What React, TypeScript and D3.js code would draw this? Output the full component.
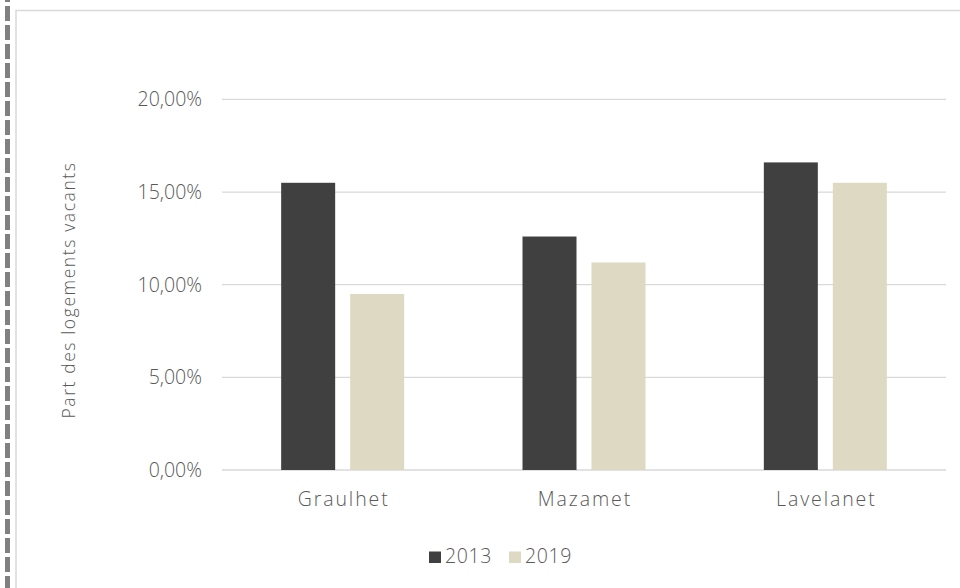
import React from "react";
import * as d3 from "d3";

const categories = ["Graulhet", "Mazamet", "Lavelanet"];
const seriesNames = ["2013", "2019"];
const values2013 = [0.155, 0.126, 0.166];
const values2019 = [0.095, 0.112, 0.155];
const yTicks = [0, 0.05, 0.1, 0.15, 0.2];
const colors = ["#404040", "#ddd9c3"];

const W = 960;
const H = 588;
const FONT = "'Century Gothic', 'Open Sans', 'DejaVu Sans', sans-serif";

export default function App() {
  const left = 222;
  const right = 946;
  const top = 99.4;
  const bottom = 470;
  const x = d3.scaleBand<string>().domain(categories).range([left, right]).paddingInner(0).paddingOuter(0);
  const y = d3.scaleLinear().domain([0, 0.2]).range([bottom, top]);
  const barW = 54;
  const gap = 15;
  const series = [values2013, values2019];
  const fmt = (v: number) => d3.format(".2f")(v * 100).replace(".", ",") + "%";
  const legendX = [429, 509];

  return (
    <svg width={W} height={H} style={{ position: "absolute", left: 0, top: 0, display: "block" }}>
      <rect x={0} y={0} width={W} height={H} fill="#ffffff" />
      <line x1={7.5} y1={0} x2={7.5} y2={H} stroke="#808080" strokeWidth={5} strokeDasharray="15,4" strokeDashoffset={13} />
      <rect x={16} y={10.5} width={W + 20} height={H + 20} fill="none" stroke="#d9d9d9" strokeWidth={1.5} />
      {yTicks.map((t) => (
        <g key={t}>
          <line x1={left} x2={right} y1={y(t)} y2={y(t)} stroke="#d9d9d9" strokeWidth={1.3} />
          <text x={202} y={y(t)} dy="0.35em" textAnchor="end" fontFamily={FONT} fontWeight={300} fontSize={19.5} fill="#595959">
            {fmt(t)}
          </text>
        </g>
      ))}
      {categories.map((c, i) => {
        const cx = (x(c) as number) + x.bandwidth() / 2;
        return (
          <g key={c}>
            {series.map((s, j) => {
              const bx = cx - gap / 2 - barW + j * (barW + gap);
              return (
                <rect key={j} x={bx} y={y(s[i])} width={barW} height={bottom - y(s[i])} fill={colors[j]} />
              );
            })}
            <text x={cx + 1} y={505.5} textAnchor="middle" fontFamily={FONT} fontWeight={300} fontSize={19.5} letterSpacing={1.9} fill="#595959">
              {c}
            </text>
          </g>
        );
      })}
      <text
        transform={`translate(75, 290) rotate(-90)`}
        textAnchor="middle"
        fontFamily={FONT}
        fontWeight={300}
        fontSize={17.5}
        letterSpacing={1.6}
        fill="#595959"
      >
        Part des logements vacants
      </text>
      {seriesNames.map((n, j) => {
        const lx = legendX[j];
        return (
          <g key={n}>
            <rect x={lx} y={551.5} width={12} height={11.5} fill={colors[j]} />
            <text x={lx + 16} y={563} fontFamily={FONT} fontWeight={300} fontSize={19.5} letterSpacing={0.6} fill="#595959">
              {n}
            </text>
          </g>
        );
      })}
    </svg>
  );
}
